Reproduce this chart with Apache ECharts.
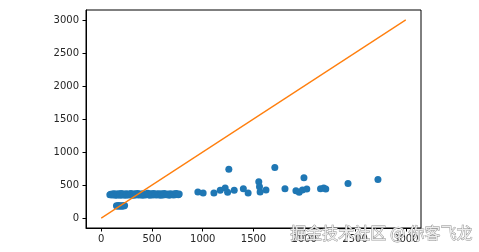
<!DOCTYPE html>
<html>
<head>
<meta charset="utf-8">
<script src="https://cdn.jsdelivr.net/npm/echarts@6/dist/echarts.min.js"></script>
<style>html,body{margin:0;padding:0;background:#fff;}#c{width:479px;height:252px;}</style>
</head>
<body>
<div id="c"></div>
<script>
var bandPoints = [[85,352],[95,360],[105,348],[112,365],[120,355],[128,370],[135,350],[142,362],[150,345],[158,358],[165,368],[172,352],[180,360],[188,347],[195,372],[203,355],[210,363],[218,350],[225,366],[233,357],[240,345],[248,370],[255,353],[262,361],[270,348],[278,366],[285,355],[293,372],[300,350],[308,362],[316,345],[323,358],[330,368],[338,351],[345,363],[353,356],[360,372],[368,348],[375,360],[383,353],[390,366],[398,358],[405,345],[413,370],[420,355],[428,362],[435,350],[443,366],[450,357],[458,375],[465,352],[473,360],[480,346],[488,368],[495,356],[503,363],[510,350],[518,372],[525,358],[533,353],[540,366],[548,349],[555,361],[563,370],[570,355],[578,362],[585,347],[593,367],[600,357],[610,350],[620,372],[630,360],[640,352],[650,366],[660,356],[670,345],[680,370],[690,358],[700,362],[710,350],[720,368],[730,355],[740,372],[750,360],[760,352],[768,365]];
var lowPoints = [[150,185],[162,178],[170,190],[180,182],[190,188],[200,180],[210,186],[222,183],[230,190]];
var outlierPoints = [[952,396],[1004,380],[1110,380],[1172,420],[1221,456],[1257,740],[1245,390],[1310,420],[1400,446],[1447,380],[1552,552],[1559,476],[1565,396],[1623,425],[1710,765],[1810,446],[1918,412],[1950,390],[1997,609],[1982,425],[2025,441],[2160,446],[2192,456],[2212,441],[2431,522],[2726,583]];
var linePoints = [[0,0],[3000,3000]];
var tickValues = [0,500,1000,1500,2000,2500,3000];
var watermark = '掘金技术社区 @ 你客飞龙';

var chart = echarts.init(document.getElementById('c'), null, {renderer:'canvas'});
var labelStyle = {color:'#262626', fontSize:10, fontFamily:'DejaVu Sans', formatter:function(v){return String(v);}};
chart.setOption({
  animation:false,
  grid:{left:86, top:10, right:58, bottom:24, show:true, borderColor:'#000', borderWidth:1, backgroundColor:'#fff'},
  xAxis:{type:'value', min:-150, max:3150,
    axisLine:{show:true, onZero:false, lineStyle:{color:'#000', width:1}},
    axisTick:{show:true, length:3.5, customValues:tickValues, lineStyle:{color:'#000'}},
    axisLabel:Object.assign({customValues:tickValues, margin:6}, labelStyle),
    splitLine:{show:false}},
  yAxis:{type:'value', min:-150, max:3150,
    axisLine:{show:true, onZero:false, lineStyle:{color:'#000', width:1}},
    axisTick:{show:true, length:3.5, customValues:tickValues, lineStyle:{color:'#000'}},
    axisLabel:Object.assign({customValues:tickValues, margin:7}, labelStyle),
    splitLine:{show:false}},
  series:[
    {type:'scatter', data:bandPoints.concat(lowPoints, outlierPoints), symbolSize:7, itemStyle:{color:'#1f77b4', opacity:1}, z:2},
    {type:'line', data:linePoints, showSymbol:false, symbol:'none', lineStyle:{color:'#ff7f0e', width:1.3}, z:3}
  ],
  graphic:[{type:'text', right:6, top:225, z:100,
    style:{text:watermark, fontSize:16, fontFamily:'Noto Sans CJK SC', fill:'#ececec', stroke:'#8a8a8a', lineWidth:0.8}}]
});
</script>
</body>
</html>
